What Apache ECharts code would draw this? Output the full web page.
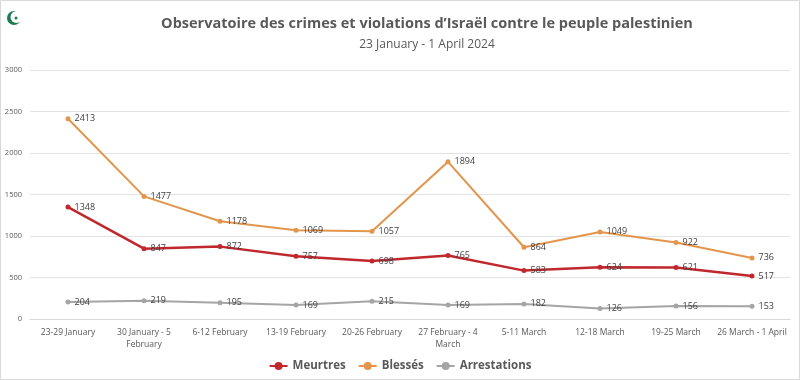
<!DOCTYPE html>
<html><head><meta charset="utf-8">
<script src="https://cdn.jsdelivr.net/npm/echarts@6/dist/echarts.min.js"></script>
<style>html,body{margin:0;padding:0;background:#fff}#c{width:800px;height:380px}</style>
</head><body><div id="c"></div>
<script>
const categories = ['23-29 January','30 January - 5\nFebruary','6-12 February','13-19 February','20-26 February','27 February - 4\nMarch','5-11 March','12-18 March','19-25 March','26 March - 1 April'];
const meurtres = [1348, 847, 872, 757, 698, 765, 583, 624, 621, 517];
const blesses = [2413, 1477, 1178, 1069, 1057, 1894, 864, 1049, 922, 736];
const arrestations = [204, 219, 195, 169, 215, 169, 182, 126, 156, 153];
const yTicks = [0, 500, 1000, 1500, 2000, 2500, 3000];

const font = 'Open Sans';
const chart = echarts.init(document.getElementById('c'));
function ser(name, data, color, w) {
  return {
    name, type: 'line', data, symbol: 'circle', symbolSize: 5,
    lineStyle: { color, width: w }, itemStyle: { color },
    label: { show: true, position: 'right', distance: 4, fontSize: 9, color: '#404040', fontFamily: font },
    emphasis: { disabled: true }, z: name === 'Meurtres' ? 3 : 2
  };
}
chart.setOption({
  animation: false,
  title: [
    { text: 'Observatoire des crimes et violations d\u2019Israël contre le peuple palestinien', left: 422, textAlign: 'center', top: 11,
      textStyle: { fontFamily: font, fontSize: 14.5, fontWeight: 'bold', color: '#595959' } },
    { text: '23 January - 1 April 2024', left: 422, textAlign: 'center', top: 34,
      textStyle: { fontFamily: font, fontSize: 12, fontWeight: 'normal', color: '#595959' } }
  ],
  graphic: [
    { type: 'rect', shape: { x: 0.5, y: 0.5, width: 799, height: 379 }, style: { fill: 'none', stroke: '#d9d9d9', lineWidth: 1 } },
    { type: 'circle', shape: { cx: 14, cy: 18, r: 7 }, style: { fill: '#1f7a4d' } },
    { type: 'circle', shape: { cx: 16.5, cy: 17, r: 6 }, style: { fill: '#fff' } },
    { type: 'circle', shape: { cx: 16, cy: 18, r: 1.5 }, style: { fill: '#1f7a4d' } }
  ],
  legend: {
    bottom: 3, left: 'center', itemWidth: 18, itemHeight: 10, itemGap: 12,
    textStyle: { fontFamily: font, fontSize: 11.5, fontWeight: 'bold', color: '#595959' },
    data: ['Meurtres', 'Blessés', 'Arrestations']
  },
  grid: { left: 30, right: 10, top: 70, bottom: 61 },
  xAxis: {
    type: 'category', data: categories, boundaryGap: true,
    axisLine: { show: true, lineStyle: { color: '#d9d9d9' } }, axisTick: { show: false },
    axisLabel: { fontFamily: font, fontSize: 8.5, color: '#595959', margin: 8, interval: 0, lineHeight: 12 }
  },
  yAxis: {
    type: 'value', min: yTicks[0], max: yTicks[yTicks.length - 1], interval: 500,
    axisLine: { show: false }, axisTick: { show: false },
    splitLine: { lineStyle: { color: '#e3e3e3' } },
    axisLabel: { fontFamily: font, fontSize: 7.5, color: '#595959', margin: 8, formatter: v => String(v) }
  },
  series: [
    ser('Meurtres', meurtres, '#c0282e', 2.5),
    ser('Blessés', blesses, '#e3954b', 2),
    ser('Arrestations', arrestations, '#a5a5a5', 2)
  ]
});
</script></body></html>
